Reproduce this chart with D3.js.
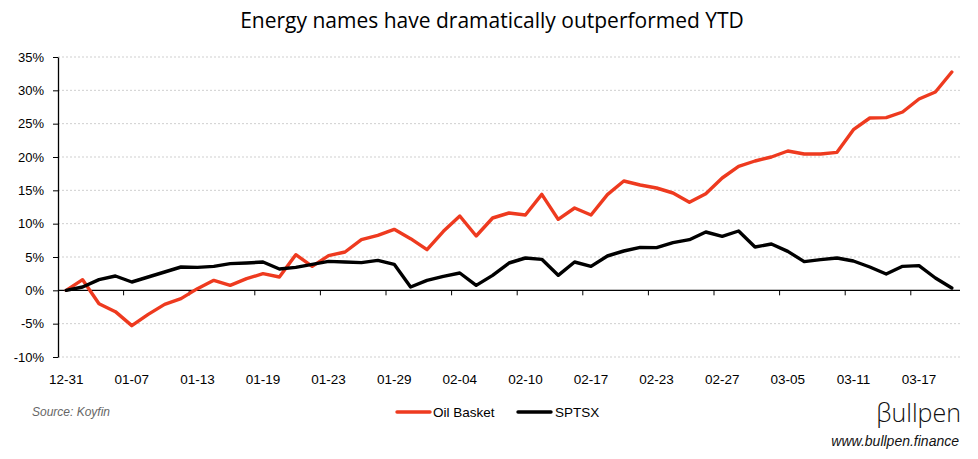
<!DOCTYPE html>
<html>
<head>
<meta charset="utf-8">
<script src="https://cdn.jsdelivr.net/npm/d3@7"></script>
<style>
  html, body { margin: 0; padding: 0; background: #fff; }
  svg { display: block; }
</style>
</head>
<body>
<svg id="chart" width="978" height="459"></svg>
<script>
const categories = ["12-31","01-02","01-05","01-06","01-07","01-08","01-09","01-12","01-13","01-14","01-15","01-16","01-19","01-20","01-21","01-22","01-23","01-26","01-27","01-28","01-29","01-30","02-02","02-03","02-04","02-05","02-06","02-09","02-10","02-11","02-12","02-13","02-17","02-18","02-19","02-20","02-23","02-24","02-25","02-26","02-27","03-02","03-03","03-04","03-05","03-06","03-09","03-10","03-11","03-12","03-13","03-16","03-17","03-18","03-19"];
const oilBasket = [0,1.6,-2.0,-3.2,-5.3,-3.6,-2.1,-1.25,0.25,1.5,0.75,1.75,2.5,2.0,5.35,3.6,5.2,5.75,7.6,8.25,9.15,7.75,6.1,8.85,11.15,8.15,10.85,11.6,11.3,14.4,10.65,12.35,11.3,14.35,16.4,15.8,15.35,14.6,13.2,14.5,16.85,18.6,19.4,20.0,20.9,20.45,20.45,20.7,24.1,25.85,25.9,26.75,28.7,29.75,32.75];
const sptsx = [0,0.5,1.6,2.15,1.25,2.0,2.75,3.5,3.45,3.6,4.0,4.1,4.25,3.2,3.45,3.9,4.35,4.25,4.15,4.5,3.9,0.5,1.5,2.1,2.6,0.75,2.25,4.1,4.85,4.65,2.25,4.25,3.6,5.15,5.9,6.45,6.4,7.15,7.6,8.75,8.1,8.9,6.5,6.95,5.85,4.3,4.6,4.85,4.4,3.5,2.45,3.6,3.7,1.85,0.35];
const yTicks = [-10,-5,0,5,10,15,20,25,30,35];
const seriesNames = ["Oil Basket","SPTSX"];
const seriesColors = ["#ee3a1f","#000000"];
const labelEvery = 4;

const svg = d3.select("#chart");
const pLeft = 58, pRight = 960, pTop = 57, pBottom = 357;

const x = d3.scaleBand().domain(categories).range([pLeft, pRight]).padding(0);
const y = d3.scaleLinear().domain([-10, 35]).range([pBottom, pTop]);
const cx = d => x(d) + x.bandwidth() / 2;

// title
svg.append("text")
  .attr("x", 492).attr("y", 28)
  .attr("text-anchor", "middle")
  .attr("font-family", "'Open Sans', sans-serif")
  .attr("font-size", 21)
  .attr("fill", "#000")
  .text("Energy names have dramatically outperformed YTD");

// gridlines
svg.append("g").selectAll("line")
  .data(yTicks.filter(t => t !== 0))
  .join("line")
  .attr("x1", pLeft).attr("x2", pRight)
  .attr("y1", d => y(d)).attr("y2", d => y(d))
  .attr("stroke", "#cfcfcf")
  .attr("stroke-width", 1)
  .attr("stroke-dasharray", "2,2");

// y axis
const yAxis = svg.append("g")
  .attr("transform", `translate(${pLeft},0)`)
  .call(d3.axisLeft(y).tickValues(yTicks).tickFormat(d => d + "%").tickSize(5).tickPadding(9).tickSizeOuter(0));
yAxis.select(".domain").attr("stroke", "#000").attr("stroke-width", 1.3);
yAxis.selectAll(".tick line").attr("stroke", "#000");
yAxis.selectAll("text")
  .attr("font-family", "'Liberation Sans', Arial, sans-serif")
  .attr("font-size", 13).attr("fill", "#000");

// zero axis with tick marks between categories
const tickCats = categories.filter((c, i) => i % labelEvery === 0);
svg.append("line")
  .attr("x1", pLeft).attr("x2", pRight)
  .attr("y1", y(0)).attr("y2", y(0))
  .attr("stroke", "#000").attr("stroke-width", 1.3);
svg.append("g").selectAll("line")
  .data(tickCats.slice(1))
  .join("line")
  .attr("x1", d => x(d)).attr("x2", d => x(d))
  .attr("y1", y(0)).attr("y2", y(0) + 5)
  .attr("stroke", "#000").attr("stroke-width", 1);

// x labels (low position)
const xAxis = svg.append("g")
  .attr("transform", `translate(0,${pBottom})`)
  .call(d3.axisBottom(x).tickValues(tickCats).tickSize(0).tickPadding(17));
xAxis.select(".domain").remove();
xAxis.selectAll("text")
  .attr("font-family", "'Liberation Sans', Arial, sans-serif")
  .attr("font-size", 13.5).attr("fill", "#000");

// lines
const line = d3.line().x((d, i) => cx(categories[i])).y(d => y(d)).curve(d3.curveLinear);
[oilBasket, sptsx].forEach((s, k) => {
  svg.append("path")
    .datum(s)
    .attr("d", line)
    .attr("fill", "none")
    .attr("stroke", seriesColors[k])
    .attr("stroke-width", 3.4)
    .attr("stroke-linejoin", "round")
    .attr("stroke-linecap", "round");
});

// legend
const legendItems = [{x: 397, tx: 433}, {x: 518, tx: 555}];
seriesNames.forEach((n, k) => {
  const g = svg.append("g");
  g.append("line")
    .attr("x1", legendItems[k].x).attr("x2", legendItems[k].x + 33)
    .attr("y1", 412).attr("y2", 412)
    .attr("stroke", seriesColors[k]).attr("stroke-width", 3.4).attr("stroke-linecap", "round");
  g.append("text")
    .attr("x", legendItems[k].tx).attr("y", 417)
    .attr("font-family", "'Liberation Sans', Arial, sans-serif")
    .attr("font-size", 13.5).attr("fill", "#000")
    .text(n);
});

// source
svg.append("text")
  .attr("x", 32).attr("y", 416)
  .attr("font-family", "'Liberation Sans', Arial, sans-serif")
  .attr("font-style", "italic")
  .attr("font-size", 12).attr("fill", "#666")
  .text("Source: Koyfin");

// logo
svg.append("text")
  .attr("x", 961).attr("y", 422)
  .attr("text-anchor", "end")
  .attr("font-family", "'Open Sans', sans-serif")
  .attr("font-weight", 300)
  .attr("font-size", 25).attr("fill", "#111")
  .text("βullpen");
svg.append("text")
  .attr("x", 959).attr("y", 446)
  .attr("text-anchor", "end")
  .attr("font-family", "'Liberation Sans', Arial, sans-serif")
  .attr("font-style", "italic")
  .attr("font-size", 14).attr("fill", "#111")
  .text("www.bullpen.finance");
</script>
</body>
</html>
